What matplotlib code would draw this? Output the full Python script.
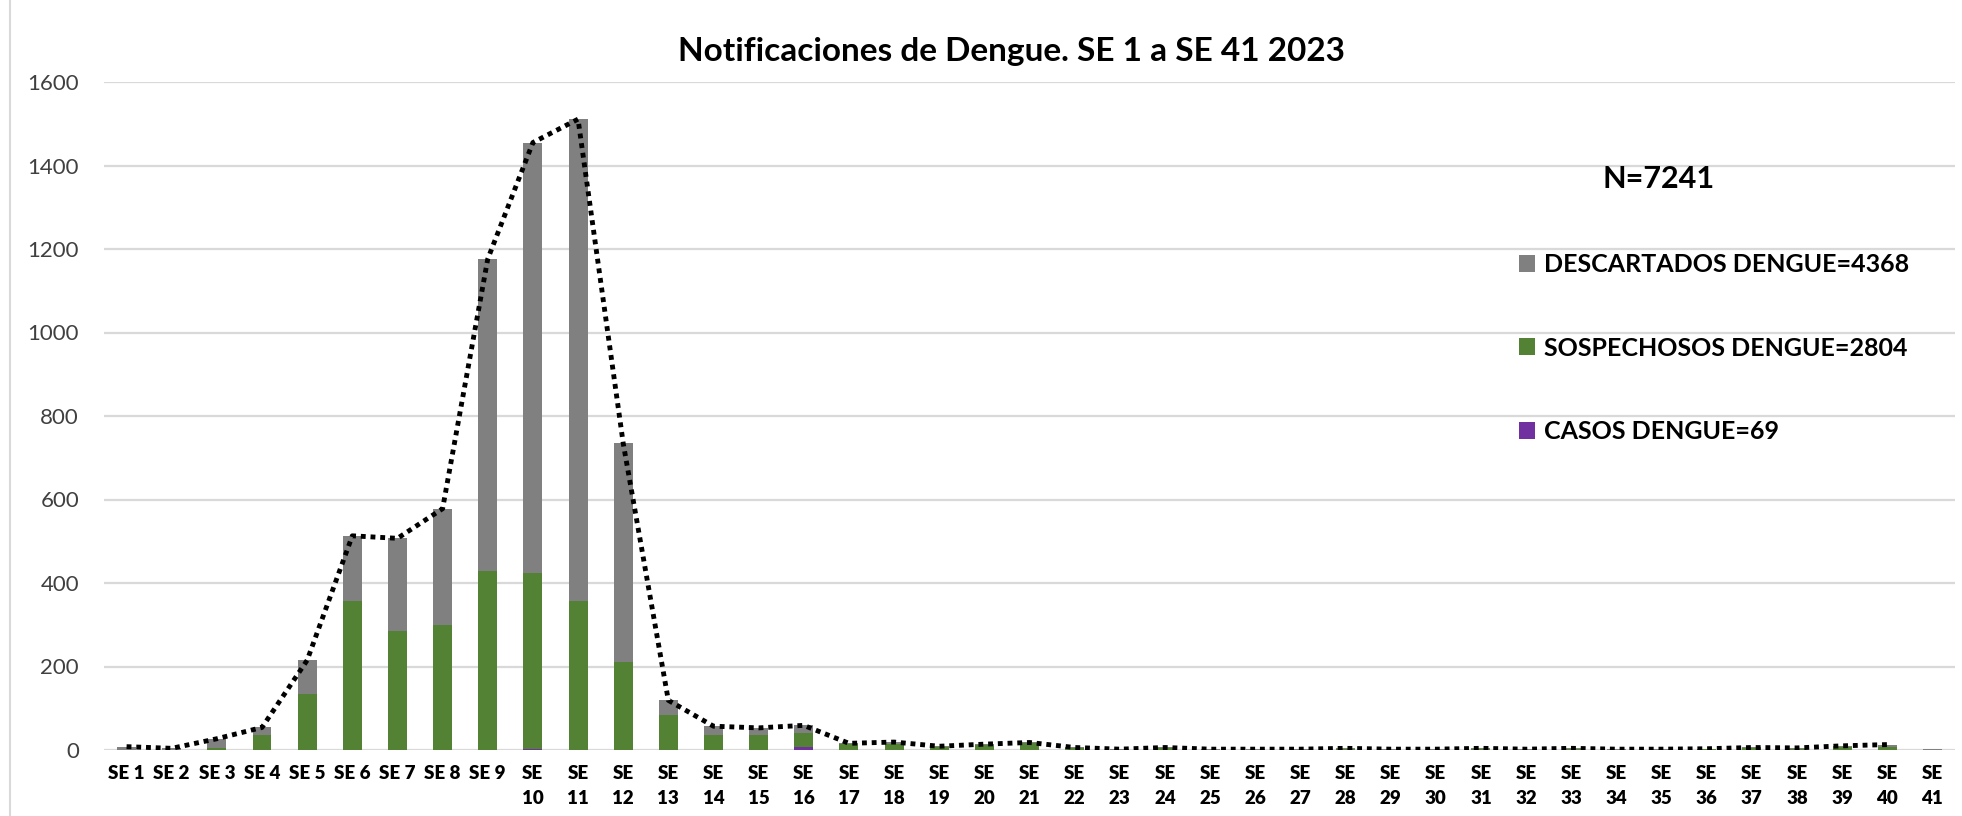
import matplotlib.pyplot as plt
from matplotlib.lines import Line2D
import numpy as np

weeks = [f"SE {i}" if i < 10 else f"SE\n{i}" for i in range(1, 42)]

casos = [0, 0, 0, 0, 0, 0, 0, 0, 0, 3, 0, 0, 0, 0, 0, 6, 0, 0, 0, 0,
         0, 0, 0, 0, 0, 0, 0, 0, 0, 0, 0, 0, 0, 0, 0, 0, 0, 0, 0, 0, 0]
sospechosos = [0, 0, 5, 35, 135, 357, 284, 299, 428, 422, 357, 211, 85, 35, 35, 35, 15, 15, 8, 12,
               16, 4, 1, 4, 1, 1, 1, 3, 1, 1, 3, 1, 3, 1, 1, 2, 4, 3, 8, 6, 0]
descartados = [8, 4, 22, 19, 80, 156, 223, 279, 748, 1030, 1154, 524, 34, 22, 18, 18, 1, 4, 1, 2,
               2, 2, 1, 2, 1, 1, 1, 1, 1, 1, 1, 1, 1, 1, 1, 1, 2, 2, 2, 7, 2]

label_casos = "CASOS DENGUE=69"
label_sosp = "SOSPECHOSOS DENGUE=2804"
label_desc = "DESCARTADOS DENGUE=4368"
title = "Notificaciones de Dengue. SE 1 a SE 41 2023"
n_text = "N=7241"

C_DESC = "#808080"
C_SOSP = "#548235"
C_CASOS = "#7030A0"

plt.rcParams["font.family"] = ["Lato", "DejaVu Sans"]

x = np.arange(len(weeks))
casos = np.array(casos)
sospechosos = np.array(sospechosos)
descartados = np.array(descartados)
total = casos + sospechosos + descartados

fig = plt.figure(figsize=(19.62, 8.16), dpi=100)
ax = fig.add_axes([104 / 1962, 1 - 750 / 816, (1955 - 104) / 1962, (750 - 82) / 816])

w = 0.42
b_c = ax.bar(x, casos, w, color=C_CASOS, label=label_casos, zorder=3)
b_s = ax.bar(x, sospechosos, w, bottom=casos, color=C_SOSP, label=label_sosp, zorder=3)
b_d = ax.bar(x, descartados, w, bottom=casos + sospechosos, color=C_DESC, label=label_desc, zorder=3)

# total line stops at SE 40 in the original
ax.plot(x[:-1], total[:-1], color="black", linestyle=(0, (1, 1)), linewidth=3.5, zorder=4)

ax.set_xlim(-0.5, len(weeks) - 0.5)
ax.set_ylim(0, 1600)
ax.set_yticks(np.arange(0, 1601, 200))
ax.yaxis.grid(True, color="#D9D9D9", linewidth=1.6, zorder=0)
ax.set_axisbelow(True)
for s in ax.spines.values():
    s.set_visible(False)
ax.tick_params(axis="both", length=0)
ax.tick_params(axis="y", labelsize=16, pad=18, labelcolor="#404040")
ax.set_xticks(x)
ax.set_xticklabels(weeks, fontsize=13.5, fontweight="heavy", linespacing=1.55, va="top")
ax.tick_params(axis="x", pad=11)

fig.text(1011 / 1962, 1 - 52 / 816, title, ha="center", va="center", fontsize=24, fontweight="bold")
fig.text(1659 / 1962, 1 - 179 / 816, n_text, ha="center", va="center", fontsize=22, fontweight="bold")

leg = ax.legend(handles=[b_d, b_s, b_c], loc="upper left",
                bbox_to_anchor=(1519 / 1962, 1 - 253 / 816), bbox_transform=fig.transFigure,
                frameon=False, fontsize=18, labelspacing=2.42,
                handlelength=0.65, handleheight=0.65, handletextpad=0.35, borderpad=0, borderaxespad=0)
for t in leg.get_texts():
    t.set_fontweight("bold")

fig.add_artist(Line2D([10 / 1962, 10 / 1962], [0, 1], color="#D9D9D9", linewidth=1.5))

fig.savefig("out.png", dpi=100)
